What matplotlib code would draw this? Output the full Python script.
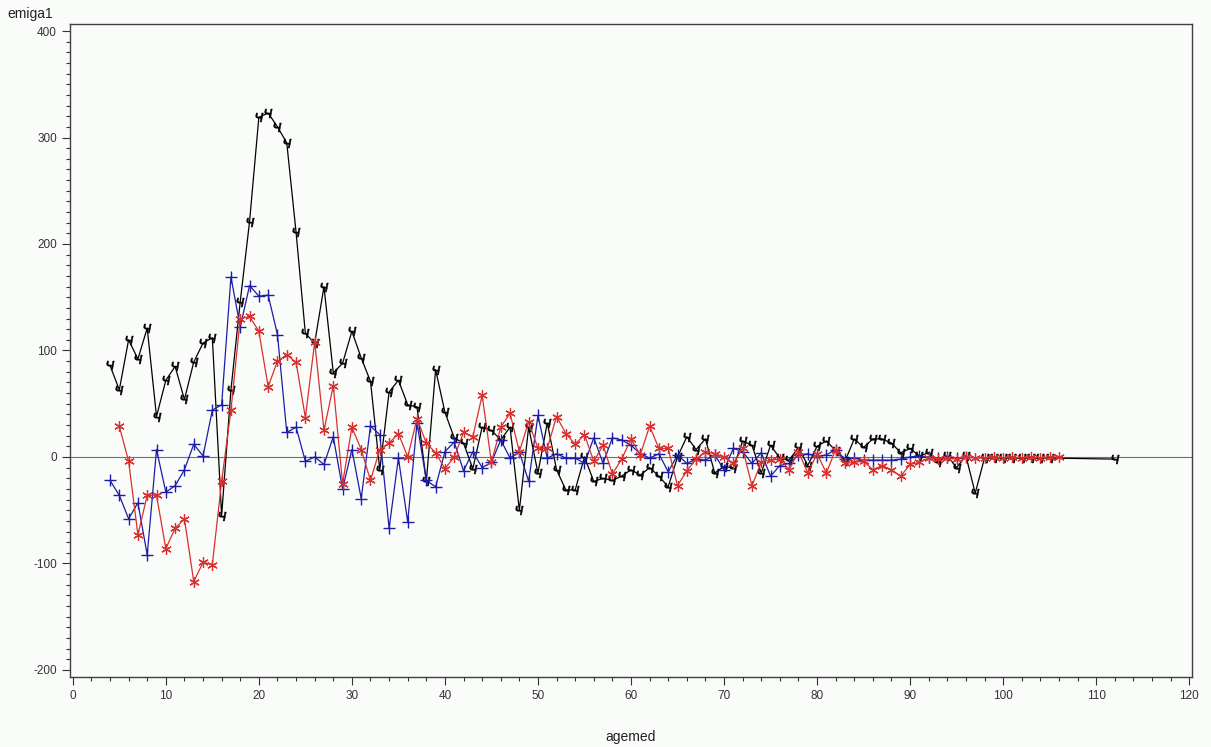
import matplotlib
matplotlib.use("Agg")
import matplotlib.pyplot as plt
from matplotlib.ticker import MultipleLocator

plt.rcParams['font.family'] = ['Liberation Sans', 'DejaVu Sans']
plt.rcParams['axes.unicode_minus'] = False

# black series (agemed 4..105, 112)
black_x = list(range(4, 106)) + [112]
black_y = [86, 63, 110, 92, 121, 38, 72, 85, 54, 89, 107, 112, -55, 63, 146, 221,
           319, 323, 310, 295, 211, 116, 107, 160, 79, 88, 118, 93, 71, -12, 61, 72,
           49, 47, -23, 82, 42, 18, 13, -11, 28, 25, 16, 28, -50, 28, -15, 32,
           -12, -31, -31, 0, -23, -20, -22, -18, -12, -17, -10, -18, -28, 0, 19, 7,
           17, -15, -9, -10, 15, 11, -15, 11, -1, -3, 9, -8, 10, 15, 6, -4,
           17, 9, 17, 17, 13, 4, 8, 1, 4, -5, 1, -10, 1, -34, -1, -1,
           -1, -1, -1, -1, -1, -1, -2]

# blue series (agemed 4..96)
blue_x = list(range(4, 97))
blue_y = [-22, -36, -58, -43, -92, 7, -33, -27, -12, 12, 1, 44, 49, 169, 122, 161,
          151, 152, 115, 23, 28, -4, 0, -7, 19, -30, 7, -39, 29, 21, -67, -1,
          -61, 32, -22, -28, 5, 14, -13, 5, -10, -5, 16, -1, 5, -23, 39, -1,
          3, -1, -1, -6, 18, -6, 18, 16, 11, 3, -1, 3, -14, 2, -6, -2,
          -3, 2, -12, 8, 5, -6, 4, -18, -8, -6, 2, 3, 0, 2, 7, -2,
          -1, -3, -3, -3, -3, -2, 0, 1, 0, -1, 0, -1, 0]

# red series (agemed 5..106)
red_x = list(range(5, 107))
red_y = [29, -4, -73, -36, -36, -86, -67, -58, -117, -99, -101, -23, 44, 130, 132, 118,
         66, 90, 96, 89, 37, 108, 25, 67, -25, 28, 7, -22, 7, 13, 22, 0,
         36, 13, 4, -11, 0, 23, 19, 58, -5, 28, 41, 5, 33, 8, 8, 38,
         22, 12, 21, -4, 11, -16, -2, 17, 2, 29, 8, 8, -27, -13, -2, 5,
         3, 0, -6, 8, -27, -5, -3, -2, -12, 5, -15, 3, -15, 7, -6, -5,
         -4, -12, -8, -12, -18, -7, -5, -1, -2, -1, -2, 0, -1, -1, 0, -1,
         0, -1, 0, -1, 0, 0]

fig = plt.figure(figsize=(12.11, 7.47), dpi=100)
fig.patch.set_facecolor('#fafcfa')
ax = fig.add_axes([0.0578, 0.0937, 0.9265, 0.8742])
ax.set_facecolor('#fafcfa')

ax.axhline(0, color='#707070', lw=0.8, zorder=1)

ax.plot(black_x, black_y, color='black', lw=0.9, marker='$ч$', markersize=6.5,
        markeredgewidth=0.3, zorder=3)
ax.plot(blue_x, blue_y, color='#1c1ca8', lw=0.9, marker='+', markersize=8,
        markeredgewidth=1.0, zorder=4)
ax.plot(red_x, red_y, color='#d83030', lw=0.9, marker=(6, 2, 0), markersize=7.5,
        markeredgewidth=0.9, zorder=5)

ax.set_xlim(-0.3, 120.3)
ax.set_ylim(-206.6, 406.6)
ax.xaxis.set_major_locator(MultipleLocator(10))
ax.xaxis.set_minor_locator(MultipleLocator(2))
ax.yaxis.set_major_locator(MultipleLocator(100))
ax.yaxis.set_minor_locator(MultipleLocator(10))
ax.tick_params(which='major', direction='out', length=6, width=0.8,
               labelsize=8.5, labelcolor='#333333', color='#333333')
ax.tick_params(which='minor', direction='out', length=3, width=0.8, color='#333333')
for s in ax.spines.values():
    s.set_color('#404040')
    s.set_linewidth(1.0)

ax.set_xlabel('agemed', fontsize=10, color='#222222', labelpad=20)
fig.text(0.006, 0.972, 'emiga1', fontsize=10, color='#222222', ha='left', va='bottom')

fig.savefig('out.png', dpi=100, facecolor=fig.get_facecolor())
